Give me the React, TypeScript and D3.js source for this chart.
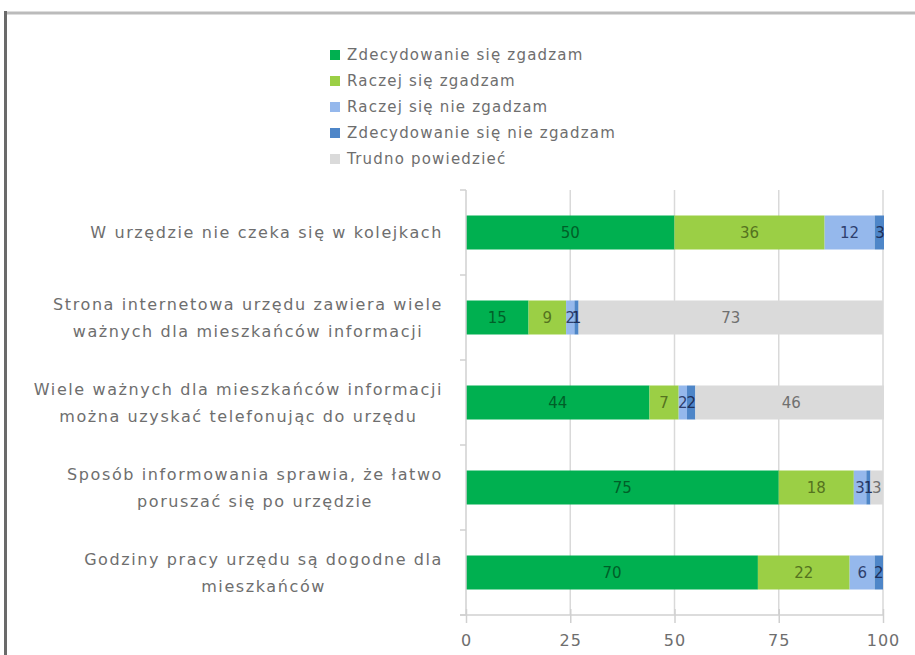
import React, { useEffect, useRef } from "react";
import * as d3 from "d3";

const categories = [
  ["W urzędzie nie czeka się w kolejkach"],
  ["Strona internetowa urzędu zawiera wiele", "ważnych dla mieszkańców informacji"],
  ["Wiele ważnych dla mieszkańców informacji", "można uzyskać telefonując do urzędu"],
  ["Sposób informowania sprawia, że łatwo", "poruszać się po urzędzie"],
  ["Godziny pracy urzędu są dogodne dla", "mieszkańców"],
];

const seriesNames = [
  "Zdecydowanie się zgadzam",
  "Raczej się zgadzam",
  "Raczej się nie zgadzam",
  "Zdecydowanie się nie zgadzam",
  "Trudno powiedzieć",
];

// values per category, in series order
const strongAgree = [50, 15, 44, 75, 70];
const ratherAgree = [36, 9, 7, 18, 22];
const ratherDisagree = [12, 2, 2, 3, 6];
const strongDisagree = [3, 1, 2, 1, 2];
const hardToSay = [0, 73, 46, 3, 0];

const xTicks = [0, 25, 50, 75, 100];

const fills = ["#00B050", "#9BCF45", "#95B8EC", "#4E86C8", "#DADADA"];
const labelColors = ["#005F28", "#55731F", "#2E3F6E", "#1F2F5A", "#707070"];

export default function App() {
  const ref = useRef<SVGSVGElement | null>(null);
  const width = 915;
  const height = 655;

  useEffect(() => {
    const svg = d3.select(ref.current);
    svg.selectAll("*").remove();

    const font = "DejaVu Sans, sans-serif";
    const textColor = "#6E6E6E";

    // frame
    svg.append("line")
      .attr("x1", 5).attr("x2", width).attr("y1", 13).attr("y2", 13)
      .attr("stroke", "#BBBBBB").attr("stroke-width", 3);
    svg.append("line")
      .attr("x1", 5.5).attr("x2", 5.5).attr("y1", 11).attr("y2", height)
      .attr("stroke", "#6A6A6A").attr("stroke-width", 3);

    const left = 466, right = 883, top = 190, bottom = 615;

    const x = d3.scaleLinear().domain([0, 100]).range([left, right]);
    const y = d3.scaleBand<number>()
      .domain(d3.range(categories.length))
      .range([top, bottom])
      .paddingInner(0.6)
      .paddingOuter(0.3);

    const all = [strongAgree, ratherAgree, ratherDisagree, strongDisagree, hardToSay];

    // gridlines
    svg.append("g").selectAll("line")
      .data(xTicks.slice(1))
      .enter().append("line")
      .attr("x1", (d) => x(d)).attr("x2", (d) => x(d))
      .attr("y1", top).attr("y2", bottom)
      .attr("stroke", "#D9D9D9").attr("stroke-width", 1.5);

    // clip to plot area
    svg.append("clipPath").attr("id", "plot")
      .append("rect").attr("x", left).attr("y", top)
      .attr("width", right - left + 1).attr("height", bottom - top);

    const bars = svg.append("g").attr("clip-path", "url(#plot)");
    const labels = svg.append("g");

    categories.forEach((_, ci) => {
      let acc = 0;
      all.forEach((vals, si) => {
        const v = vals[ci];
        if (!v) return;
        const x0 = x(acc);
        const x1 = x(acc + v);
        bars.append("rect")
          .attr("x", x0).attr("y", y(ci)!)
          .attr("width", x1 - x0).attr("height", y.bandwidth())
          .attr("fill", fills[si]);
        labels.append("text")
          .attr("x", Math.min((x0 + x1) / 2, right - 3))
          .attr("y", y(ci)! + y.bandwidth() / 2)
          .attr("dy", "0.35em")
          .attr("text-anchor", "middle")
          .attr("font-family", font)
          .attr("font-size", 15)
          .attr("fill", labelColors[si])
          .text(v);
        acc += v;
      });
    });

    // left axis
    svg.append("line")
      .attr("x1", left).attr("x2", left).attr("y1", top).attr("y2", bottom)
      .attr("stroke", "#D0D0D0").attr("stroke-width", 1.5);
    const bounds = d3.range(categories.length + 1).map((i) => top + (i * (bottom - top)) / categories.length);
    svg.append("g").selectAll("line")
      .data(bounds).enter().append("line")
      .attr("x1", left - 6).attr("x2", left).attr("y1", (d) => d).attr("y2", (d) => d)
      .attr("stroke", "#D0D0D0").attr("stroke-width", 1.5);

    // bottom axis
    const axis = svg.append("g")
      .attr("transform", `translate(0,${bottom})`)
      .call(d3.axisBottom(x).tickValues(xTicks).tickSize(8).tickPadding(12).tickSizeOuter(0));
    axis.select(".domain").attr("stroke", "#D0D0D0").attr("stroke-width", 1.5)
      .attr("d", `M${left - 6},0H${right}`);
    axis.selectAll(".tick line").attr("stroke", "#D0D0D0").attr("stroke-width", 1.5)
      .attr("y1", -6);
    axis.selectAll(".tick text")
      .attr("font-family", font).attr("font-size", 16).attr("letter-spacing", 1)
      .attr("fill", textColor);

    // category labels
    const labelRight = 443;
    const lh = 27;
    categories.forEach((lines, ci) => {
      const cy = y(ci)! + y.bandwidth() / 2;
      const g = svg.append("g");
      const texts = lines.map((ln, li) =>
        g.append("text")
          .attr("y", cy + (li - (lines.length - 1) / 2) * lh)
          .attr("dy", "0.35em")
          .attr("text-anchor", "middle")
          .attr("font-family", font)
          .attr("font-size", 16)
          .attr("letter-spacing", 1.6)
          .attr("fill", textColor)
          .text(ln)
      );
      const maxW = d3.max(texts, (t) => (t.node() as SVGTextElement).getComputedTextLength()) ?? 0;
      texts.forEach((t) => t.attr("x", labelRight - maxW / 2));
    });

    // legend
    const legend = svg.append("g");
    seriesNames.forEach((name, i) => {
      const ly = 55 + i * 26;
      legend.append("rect")
        .attr("x", 330).attr("y", ly - 5).attr("width", 10).attr("height", 10)
        .attr("fill", fills[i]);
      legend.append("text")
        .attr("x", 347).attr("y", ly).attr("dy", "0.35em")
        .attr("font-family", font).attr("font-size", 15).attr("letter-spacing", 1.2)
        .attr("fill", textColor)
        .text(name);
    });
  }, []);

  return (
    <svg
      ref={ref}
      width={width}
      height={height}
      style={{ position: "absolute", left: 0, top: 0, background: "#fff" }}
    />
  );
}
